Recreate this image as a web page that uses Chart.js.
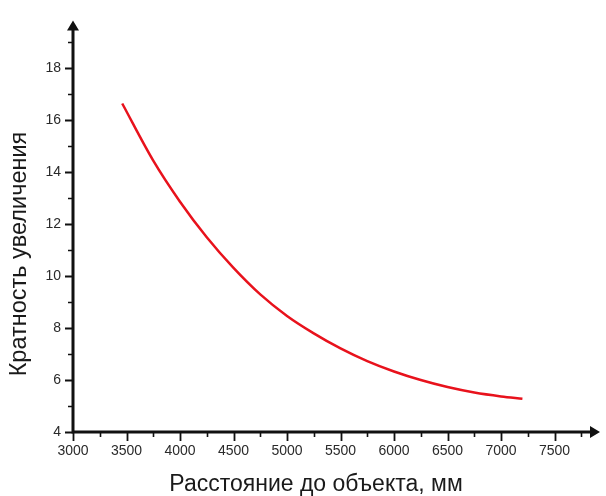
<!DOCTYPE html>
<html lang="ru">
<head>
<meta charset="utf-8">
<title>Кратность увеличения</title>
<script src="https://cdn.jsdelivr.net/npm/chart.js@4.4.1/dist/chart.umd.min.js"></script>
<style>
  html, body { margin: 0; padding: 0; background: #fff; }
  #wrap { width: 606px; height: 496px; position: relative; }
</style>
</head>
<body>
<div id="wrap"><canvas id="zoomChart"></canvas></div>
<script>
// ==== Data ====
const distance = [3460, 3750, 4000, 4250, 4500, 4750, 5000, 5250, 5500, 5750, 6000, 6250, 6500, 6750, 7000, 7200];
const magnification = [16.65, 14.45, 12.87, 11.5, 10.32, 9.3, 8.47, 7.8, 7.22, 6.73, 6.33, 6.0, 5.73, 5.52, 5.37, 5.28];

const xTicks = [3000, 3500, 4000, 4500, 5000, 5500, 6000, 6500, 7000, 7500];
const yTicks = [4, 6, 8, 10, 12, 14, 16, 18];
const xTitle = "Расстояние до объекта, мм";
const yTitle = "Кратность увеличения";

// ==== Helpers ====
const $ = (sel) => document.querySelector(sel);
const FONT = "'Liberation Sans', Arial, sans-serif";
const INK = "#111";

// ==== Axes with arrows, major/minor ticks and titles ====
const axesPlugin = {
  id: "axesPlugin",
  afterDraw(chart) {
    const { ctx, chartArea: a, scales } = chart;
    const xs = scales.x, ys = scales.y;
    const x0 = a.left, y0 = a.bottom;

    ctx.save();
    ctx.strokeStyle = INK;
    ctx.fillStyle = INK;

    // minor ticks halfway between majors
    ctx.lineWidth = 1.6;
    ctx.beginPath();
    for (let i = 0; i < xTicks.length; i++) {
      const mid = xTicks[i] + 250;
      const px = Math.round(xs.getPixelForValue(mid)) + 0.5;
      ctx.moveTo(px, y0);
      ctx.lineTo(px, y0 + 5);
    }
    for (let i = 0; i < yTicks.length; i++) {
      const mid = yTicks[i] + 1;
      const py = Math.round(ys.getPixelForValue(mid)) + 0.5;
      ctx.moveTo(x0, py);
      ctx.lineTo(x0 - 5, py);
    }
    ctx.stroke();

    // major ticks
    ctx.lineWidth = 1.8;
    ctx.beginPath();
    for (const v of xTicks) {
      const px = Math.round(xs.getPixelForValue(v)) + 0.5;
      ctx.moveTo(px, y0);
      ctx.lineTo(px, y0 + 9);
    }
    for (const v of yTicks) {
      const py = Math.round(ys.getPixelForValue(v)) + 0.5;
      ctx.moveTo(x0, py);
      ctx.lineTo(x0 - 8, py);
    }
    ctx.stroke();

    // axis lines
    ctx.lineWidth = 3;
    ctx.beginPath();
    ctx.moveTo(x0, y0 + 1.5);
    ctx.lineTo(x0, a.top + 6);
    ctx.moveTo(x0 - 1.5, y0);
    ctx.lineTo(a.right - 6, y0);
    ctx.stroke();

    // arrow heads
    ctx.beginPath();
    ctx.moveTo(x0, a.top);
    ctx.lineTo(x0 - 6, a.top + 10);
    ctx.lineTo(x0 + 6, a.top + 10);
    ctx.closePath();
    ctx.moveTo(a.right, y0);
    ctx.lineTo(a.right - 10, y0 - 6);
    ctx.lineTo(a.right - 10, y0 + 6);
    ctx.closePath();
    ctx.fill();

    // axis titles
    ctx.fillStyle = "#1a1a1a";
    ctx.textAlign = "center";
    ctx.textBaseline = "alphabetic";
    ctx.font = "23px " + FONT;
    ctx.fillText(xTitle, 316, 491);

    ctx.translate(26, 254);
    ctx.rotate(-Math.PI / 2);
    ctx.font = "23.5px " + FONT;
    ctx.fillText(yTitle, 0, 0);
    ctx.restore();
  }
};

// ==== Chart ====
new Chart($("#zoomChart"), {
  type: "line",
  data: {
    labels: distance,
    datasets: [
      {
        data: distance.map((d, i) => ({ x: d, y: magnification[i] })),
        borderColor: "#e8121c",
        borderWidth: 2.5,
        pointRadius: 0,
        cubicInterpolationMode: "monotone",
        fill: false
      }
    ]
  },
  options: {
    responsive: true,
    maintainAspectRatio: false,
    animation: false,
    layout: { padding: { top: 12, right: 6, left: 0, bottom: 0 } },
    plugins: {
      legend: { display: false },
      tooltip: { enabled: false }
    },
    scales: {
      x: {
        type: "linear",
        min: 3000,
        max: 7925,
        grid: { display: false, drawTicks: false },
        border: { display: false },
        afterBuildTicks: (s) => { s.ticks = xTicks.map((v) => ({ value: v })); },
        afterFit: (s) => { s.height = 64; },
        ticks: {
          padding: 11,
          color: "#2a2a2a",
          font: { family: FONT, size: 14 },
          callback: (v) => String(v)
        }
      },
      y: {
        type: "linear",
        min: 4,
        max: 19.85,
        grid: { display: false, drawTicks: false },
        border: { display: false },
        afterBuildTicks: (s) => { s.ticks = yTicks.map((v) => ({ value: v })); },
        afterFit: (s) => { s.width = 73; },
        ticks: {
          padding: 12,
          color: "#2a2a2a",
          font: { family: FONT, size: 14 },
          callback: (v) => String(v)
        }
      }
    }
  },
  plugins: [axesPlugin]
});
</script>
</body>
</html>
